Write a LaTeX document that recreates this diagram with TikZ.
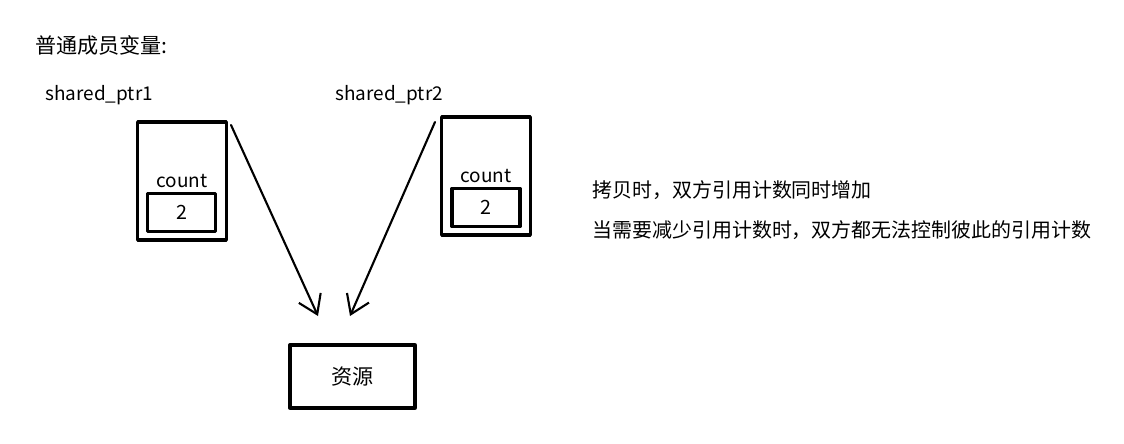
\documentclass[tikz,border=0pt]{standalone}
\usepackage{fontspec}
\setmainfont{Noto Sans CJK SC}
\usetikzlibrary{arrows.meta}

\begin{document}
\begin{tikzpicture}[
  x=0.025cm,
  y=-0.025cm,
  line cap=round,
  line join=round,
  >={Straight Barb[length=4.5mm,width=6mm]},
  ptrbox/.style={draw,line width=2.3pt,minimum width=2.22cm,minimum height=2.95cm},
  cntbox/.style={draw,line width=2.3pt,minimum width=1.7cm,minimum height=0.95cm,font=\fontsize{14}{16}\selectfont},
  resbox/.style={draw,line width=2.3pt,minimum width=3.125cm,minimum height=1.575cm,font=\fontsize{15}{17}\selectfont},
  label/.style={anchor=west,inner sep=0pt,font=\fontsize{13.5}{15}\selectfont},
  myarrow/.style={->,line width=1.5pt}
]
\useasboundingbox (0,0) rectangle (1124,443);

% title and pointer names
\node [label,font=\fontsize{15}{17}\selectfont] (title) at (35,45) {普通成员变量:};
\node [label] (name1) at (45,95) {shared\_ptr1};
\node [label] (name2) at (335,95) {shared\_ptr2};

% shared_ptr1
\node [ptrbox] (ptr1) at (182,181) {};
\node [cntbox] (cnt1) at (181.5,212.5) {2};
\node [label,anchor=center] (cntlabel1) at (182,181) {count};

% shared_ptr2
\node [ptrbox] (ptr2) at (486,176) {};
\node [cntbox] (cnt2) at (486,207.5) {2};
\node [label,anchor=center] (cntlabel2) at (486,176) {count};

% resource
\node [resbox] (res) at (352.5,376.5) {资源};

\coordinate (tail1) at (231,125);
\coordinate (head1) at (318,316);
\coordinate (tail2) at (435,122);
\coordinate (head2) at (350,316);
\draw [myarrow] (tail1) -- (head1);
\draw [myarrow] (tail2) -- (head2);

% notes
\node [label,font=\fontsize{14.2}{16}\selectfont] (note1) at (592,190) {拷贝时，双方引用计数同时增加};
\node [label,font=\fontsize{14.2}{16}\selectfont] (note2) at (592,230) {当需要减少引用计数时，双方都无法控制彼此的引用计数};

\end{tikzpicture}
\end{document}
